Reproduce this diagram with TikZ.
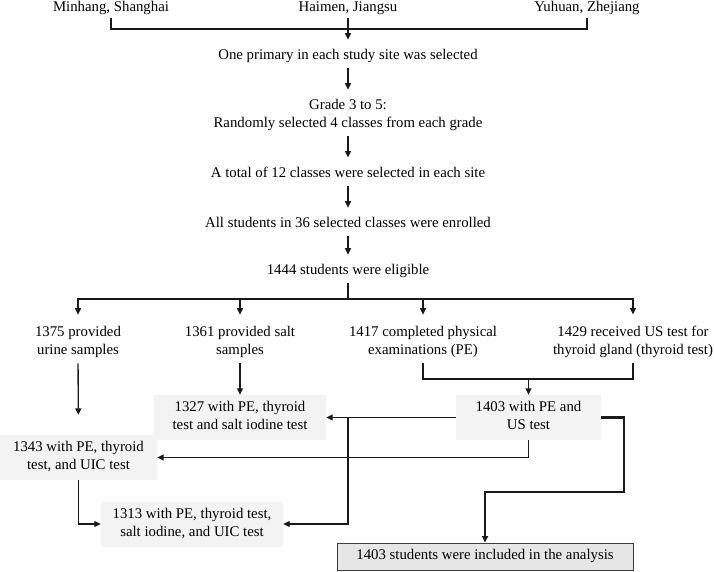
\documentclass[tikz,border=0pt]{standalone}
\usepackage{fontspec}
\setmainfont{Liberation Serif}
\usetikzlibrary{arrows.meta}
\definecolor{boxgray}{HTML}{F3F3F3}
\definecolor{fingray}{HTML}{E6E6E6}
\definecolor{finborder}{HTML}{3C3C3C}
\definecolor{linec}{HTML}{1A1A1A}
\newcommand\myfs{\fontsize{14.8pt}{18pt}\selectfont}
\newcommand\myst{\rule[-3.3pt]{0pt}{10.3pt}}
\tikzset{
  txt/.style={font=\myfs, align=center, inner sep=0pt, execute at begin node=\myst, execute at end node=\myst},
  gbox/.style={txt, fill=boxgray, minimum height=45pt},
  ln/.style={draw=linec, line width=1.35pt},
  arr/.style={ln, -{Triangle[length=6.5pt,width=6pt]}},
  thk/.style={draw=linec, line width=2.4pt, -{Triangle[length=6.5pt,width=6pt]}},
  chain/.style={arr, shorten <=5.3pt, shorten >=9.4pt}
}
\begin{document}
\begin{tikzpicture}[x=1pt,y=-1pt]
\useasboundingbox (0,0) rectangle (714,572);
% top sites
\node[txt] (minhang) at (111,8.5) {Minhang, Shanghai};
\node[txt] (haimen) at (348,8.5) {Haimen, Jiangsu};
\node[txt] (yuhuan) at (587,8.5) {Yuhuan, Zhejiang};
\coordinate (topbar) at (348,29);
\draw[ln, shorten <=2.8pt] (minhang.south) |- (topbar);
\draw[ln, shorten <=2.8pt] (yuhuan.south) |- (topbar);
% chain
\node[txt] (one) at (348,56) {One primary in each study site was selected};
\node[txt] (grade) at (348,115) {Grade 3 to 5:\\Randomly selected 4 classes from each grade};
\node[txt] (total) at (348,174) {A total of 12 classes were selected in each site};
\node[txt] (all) at (348,224) {All students in 36 selected classes were enrolled};
\node[txt] (elig) at (348,271) {1444 students were eligible};
\draw[arr, shorten <=2.8pt, shorten >=9.4pt] (haimen.south) -- (one.north);
\draw[chain] (one.south) -- (grade.north);
\draw[chain] (grade.south) -- (total.north);
\draw[chain] (total.south) -- (all.north);
\draw[chain] (all.south) -- (elig.north);
% branches
\node[txt] (n1375) at (78,342) {1375 provided\\urine samples};
\node[txt] (n1361) at (240,342) {1361 provided salt\\samples};
\node[txt] (n1417) at (423,342) {1417 completed physical\\examinations (PE)};
\node[txt] (n1429) at (633,342) {1429 received US test for\\thyroid gland (thyroid test)};
\coordinate (split) at (348,299);
\draw[ln, shorten <=5.3pt] (elig.south) -- (split);
\draw[arr, shorten >=11.4pt] (split) -| (n1375.north);
\draw[arr, shorten >=11.4pt] (split) -| (n1361.north);
\draw[arr, shorten >=11.4pt] (split) -| (n1417.north);
\draw[arr, shorten >=11.4pt] (split) -| (n1429.north);
% boxes
\node[gbox, minimum width=172pt] (b1327) at (240,417.5) {1327 with PE, thyroid\\test and salt iodine test};
\node[gbox, minimum width=145pt] (b1403) at (528.5,417.5) {1403 with PE and\\US test};
\node[gbox, minimum width=157pt] (b1343) at (78.5,457.5) {1343 with PE, thyroid\\test, and UIC test};
\node[gbox, minimum width=182pt] (b1313) at (192,524) {1313 with PE, thyroid test,\\salt iodine, and UIC test};
\node[txt, fill=fingray, draw=finborder, line width=1pt, minimum width=296pt, minimum height=27pt] (final) at (485,556.5) {1403 students were included in the analysis};
% joins
\coordinate (jn) at (528.5,379);
\draw[ln, shorten <=5.3pt] (n1417.south) |- (jn);
\draw[ln, shorten <=5.3pt] (n1429.south) |- (jn);
\draw[arr] (jn) -- (b1403.north);
\draw[arr, shorten <=5.3pt] (n1361.south) -- (b1327.north);
\draw[arr, shorten <=5.3pt, shorten >=20pt] (n1375.south) -- (b1343.north);
\coordinate (vx) at (348,417.5);
\draw[arr] (b1403.west) -- (b1327.east);
\draw[arr] (vx) |- (b1313.east);
\draw[arr] (b1403.south) |- (b1343.east);
\draw[arr] (b1343.south) |- (b1313.west);
\coordinate (t1) at (624,492);
\draw[thk] (b1403.east) -| (t1) -| (final.north);
\end{tikzpicture}
\end{document}
